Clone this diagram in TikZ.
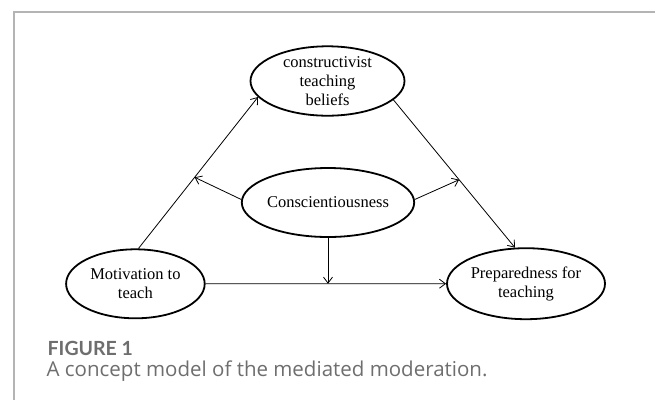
\documentclass[tikz,border=0pt]{standalone}
\usepackage{fontspec}
\setmainfont{Liberation Serif}
\newfontfamily\labelfont{Lato}
\newfontfamily\capfont{Open Sans}
\usetikzlibrary{shapes.geometric,arrows.meta,calc}
\definecolor{framegray}{HTML}{B4B4B4}
\definecolor{capgray}{HTML}{6E6E6E}
\begin{document}
\begin{tikzpicture}[x=1pt,y=-1pt,
  construct/.style={ellipse,draw,line width=1.8pt,inner sep=0pt,align=center,
    font=\fontsize{16.5}{19}\selectfont},
  path/.style={line width=0.8pt,-{Straight Barb[length=6pt,width=9pt,line width=0.8pt]}}]
\useasboundingbox (0,0) rectangle (655,400);

% panel frame
\draw[framegray,line width=1.5pt] (14,400) -- (14,12) -- (655,12);

% constructs
\node[construct,minimum width=154pt,minimum height=69pt] (ctb) at (327.5,81)
  {constructivist\\teaching\\beliefs};
\node[construct,minimum width=154pt,minimum height=69pt] (con) at (328,202.5)
  {Conscientiousness};
\node[construct,minimum width=138.6pt,minimum height=69pt] (mot) at (135.4,283.8)
  {Motivation to\\teach};
\node[construct,minimum width=158pt,minimum height=71pt] (prep) at (526,283.7)
  {Preparedness for\\teaching};

% points where the moderator meets each path
\coordinate (ml) at ($(mot.85)!0.47!(ctb.193)$);
\coordinate (mr) at ($(ctb.344)!0.54!(prep.107)$);
\coordinate (md) at (con.south |- mot.east);

% paths
\draw[path] (mot.85) -- (ctb.193);
\draw[path] (ctb.344) -- (prep.107);
\draw[path] (mot.east) -- (prep.west);
\draw[path] (con.178) -- (ml);
\draw[path] (con.2) -- (mr);
\draw[path] (con.south) -- (md);

% caption
\node[anchor=base west,inner sep=0pt,text=capgray,
  font=\labelfont\bfseries\fontsize{19.5}{22}\selectfont] (figlabel) at (47.5,355.7) {FIGURE 1};
\node[anchor=base west,inner sep=0pt,text=capgray,
  font=\capfont\fontsize{20.5}{24}\selectfont] (figcap) at (46.5,376)
  {A concept model of the mediated moderation.};
\end{tikzpicture}
\end{document}
